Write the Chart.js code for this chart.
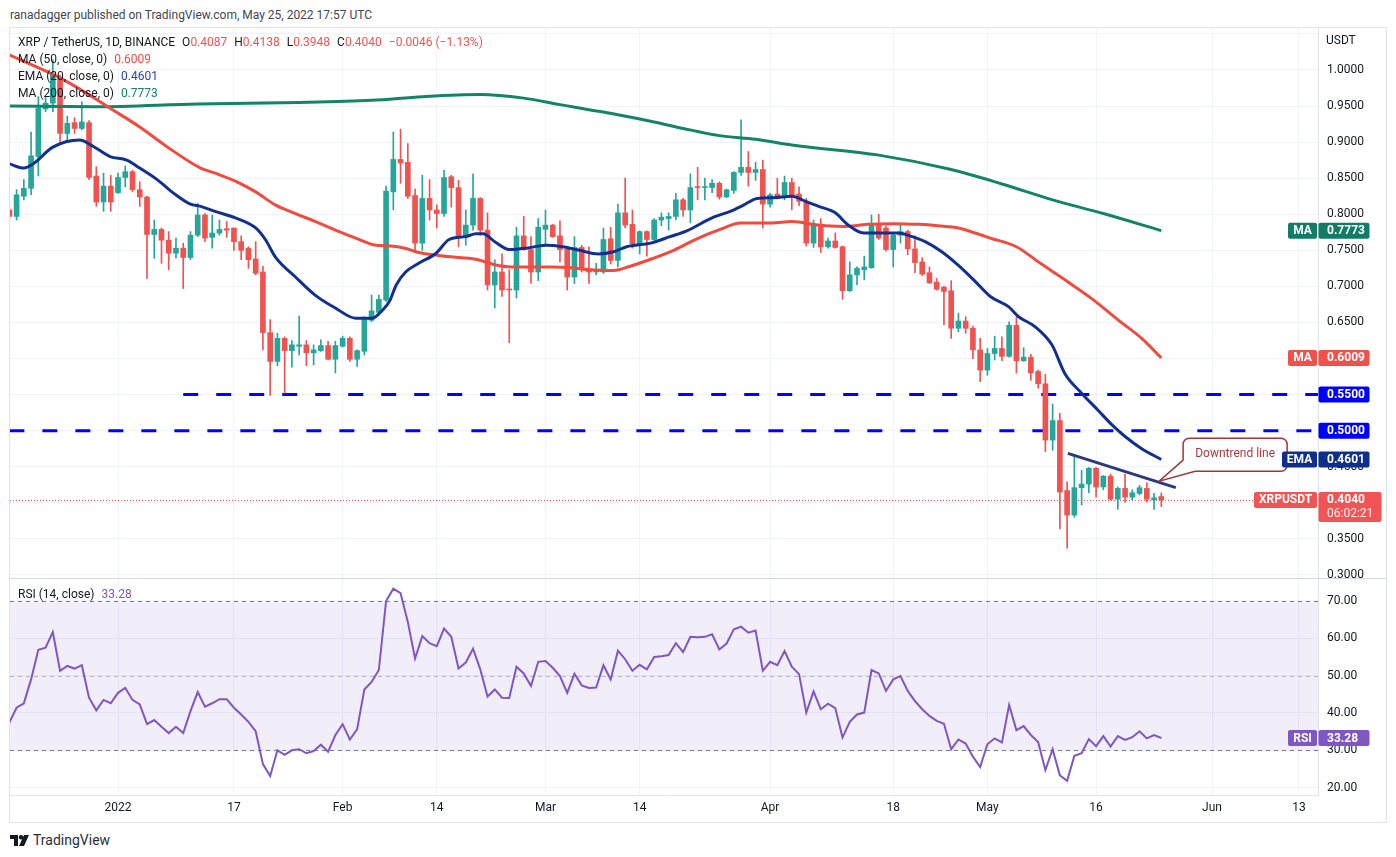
<!DOCTYPE html>
<html>
<head>
<meta charset="utf-8">
<script src="https://cdn.jsdelivr.net/npm/chart.js@4.4.0/dist/chart.umd.min.js"></script>
<style>
  body { margin: 0; background: #fff; font-family: Roboto, "Liberation Sans", sans-serif; }
  #page { position: relative; width: 1396px; height: 857px; overflow: hidden; background: #fff; }
  .txt { position: absolute; font-size: 12px; line-height: 14px; color: #131722; white-space: nowrap; }
  .txt span { margin-left: 7px; }
  .txt span.n { margin-left: 0; }
  #frame { position: absolute; left: 9px; top: 27px; width: 1376px; height: 794px; border: 1px solid #e0e3eb; }
  canvas { position: absolute; }
</style>
</head>
<body>
<div id="page">
  <div class="txt" style="left:10px;top:8px;color:#434651">ranadagger published on TradingView.com, May 25, 2022 17:57 UTC</div>
  <div id="frame"></div>
  <canvas id="priceChart" width="1376" height="550" style="left:10px;top:28px;width:1376px;height:550px"></canvas>
  <canvas id="rsiChart" width="1376" height="244" style="left:10px;top:578px;width:1376px;height:244px"></canvas>
  <div class="txt" id="leg1" style="left:18px;top:35px"></div>
  <div class="txt" id="leg2" style="left:18px;top:52px"></div>
  <div class="txt" id="leg3" style="left:18px;top:69px"></div>
  <div class="txt" id="leg4" style="left:18px;top:86px"></div>
  <div class="txt" id="legRsi" style="left:18px;top:587px"></div>
  <div class="txt" style="left:1326px;top:33px">USDT</div>
  <div class="txt" style="left:10px;top:832px;font-size:14px;line-height:16px;color:#2a2e39">
    <svg width="19" height="11" viewBox="0 0 19 11" style="vertical-align:-1px;margin-right:4px"><path d="M0 0h8v11h-4v-7h-4z" fill="#131722"/><circle cx="11" cy="2.2" r="2.2" fill="#131722"/><path d="M14 0h5l-5 11h-5z" fill="#131722"/></svg>TradingView
  </div>
</div>
<script>
// days are counted from 2022-01-01; first candle is 2021-12-17
const firstDay = -15;

const opens = [
  .806,.797,.825,.836,.880,.946,.954,.989,.912,.927,.919,.927,.853,.817,.839,
  .830,.851,.859,.834,.824,.772,.779,.764,.746,.753,.740,.771,
  .799,.768,.774,.780,.781,.762,.753,.738,.720,.636,.596,.628,.611,.617,.619,.608,.611,.618,.599,.617,.628,.599,.610,.653,.664,.681,
  .831,.876,.872,.826,.760,.822,.806,.801,.852,.837,.769,.785,.822,.778,.702,.720,.696,.695,.770,.751,.720,.779,.785,.770,.752,.713,.754,
  .724,.720,.720,.766,.736,.802,.786,.759,.776,.765,.792,.794,.797,.820,.806,.838,.837,.837,.843,.824,.833,.858,.865,.858,.862,.814,.828,.824,
  .844,.828,.818,.760,.786,.755,.763,.755,.694,.716,.723,.726,.786,.781,.751,.771,.776,.752,.734,.719,.706,.699,.694,.642,.652,.642,.612,.584,
  .607,.614,.603,.646,.597,.602,.582,.565,.487,.514,.417,.383,.421,.426,.448,.422,.437,.405,.420,.408,.413,.420,.404,.4087
];
const highs = [
  .810,.834,.848,.914,.963,.963,1.014,.993,.936,.934,.956,.930,.866,.857,.854,
  .857,.867,.861,.845,.825,.792,.781,.776,.767,.760,.776,.815,
  .801,.799,.792,.790,.781,.770,.755,.762,.728,.654,.635,.630,.625,.659,.625,.619,.626,.624,.624,.631,.630,.612,.658,.688,.688,.839,
  .914,.918,.898,.835,.854,.848,.813,.861,.854,.847,.806,.856,.823,.802,.737,.745,.723,.782,.797,.769,.794,.806,.786,.791,.753,.769,.757,
  .755,.732,.781,.782,.814,.850,.806,.777,.777,.794,.802,.802,.829,.822,.856,.865,.850,.848,.845,.835,.859,.931,.887,.872,.875,.829,.850,.853,
  .850,.838,.822,.792,.794,.767,.774,.756,.734,.727,.742,.799,.800,.784,.774,.787,.778,.770,.740,.727,.711,.700,.708,.663,.658,.645,.628,.614,
  .631,.630,.651,.657,.615,.606,.584,.578,.537,.524,.429,.465,.445,.449,.449,.438,.440,.422,.440,.418,.424,.428,.413,.4138
];
const lows = [
  .795,.792,.820,.827,.853,.942,.942,.898,.901,.912,.917,.848,.811,.804,.804,
  .829,.838,.831,.811,.711,.739,.732,.723,.739,.697,.737,.769,
  .762,.753,.771,.768,.750,.737,.725,.716,.612,.549,.590,.552,.588,.605,.590,.591,.610,.598,.580,.616,.596,.589,.605,.651,.663,.679,
  .806,.843,.822,.750,.750,.792,.781,.797,.810,.755,.757,.778,.771,.695,.670,.686,.622,.684,.750,.704,.708,.757,.768,.734,.695,.704,.720,
  .704,.716,.718,.731,.727,.781,.753,.745,.742,.764,.784,.778,.792,.797,.788,.820,.820,.830,.821,.823,.829,.854,.839,.847,.781,.810,.821,.820,
  .806,.812,.756,.754,.747,.753,.753,.682,.693,.702,.709,.725,.765,.749,.727,.760,.744,.719,.715,.704,.695,.647,.628,.637,.635,.600,.568,.577,
  .598,.597,.602,.580,.596,.570,.559,.471,.473,.364,.337,.380,.397,.414,.408,.418,.404,.391,.401,.404,.411,.401,.391,.3948
];
const closes = [
  .797,.827,.836,.881,.947,.954,.993,.912,.926,.919,.928,.851,.817,.839,.817,
  .851,.859,.834,.824,.772,.779,.764,.746,.753,.740,.771,.799,
  .767,.774,.779,.778,.762,.750,.737,.718,.636,.596,.628,.611,.619,.619,.608,.612,.618,.599,.618,.628,.599,.611,.657,.666,.682,.832,
  .876,.871,.825,.760,.822,.806,.801,.851,.837,.769,.785,.822,.778,.702,.720,.695,.695,.770,.751,.720,.782,.785,.769,.751,.713,.754,.723,
  .720,.722,.765,.736,.802,.785,.759,.776,.765,.792,.796,.797,.820,.806,.837,.837,.838,.843,.824,.834,.858,.865,.858,.862,.814,.827,.822,.844,
  .826,.818,.760,.787,.755,.763,.754,.694,.716,.725,.727,.787,.767,.751,.771,.776,.752,.733,.717,.705,.696,.693,.642,.652,.642,.612,.584,.607,
  .614,.603,.646,.597,.602,.580,.565,.487,.514,.415,.383,.421,.426,.448,.422,.437,.405,.420,.408,.414,.421,.405,.407,.4040
];

// moving averages as [day, value]
const ema20Points = [
  [-15,.870],[-13,.864],[-11.7,.870],[-9,.893],[-5.3,.903],[-3.4,.894],[-1.1,.880],[1.2,.875],[3,.864],[5.4,.848],
  [7.7,.829],[10,.814],[11.4,.811],[13.4,.804],[16.2,.795],[19,.781],[20.4,.764],[21.7,.741],[24.5,.713],[27.2,.688],
  [30,.670],[32.8,.656],[35.1,.656],[36.5,.667],[37.5,.680],[38.4,.702],[39.7,.720],[41.5,.732],[43.9,.746],[45.7,.765],
  [48,.769],[49.4,.773],[50.4,.773],[52,.762],[54,.751],[56.4,.753],[59,.757],[61.4,.755],[63.7,.750],[66.3,.745],
  [68.4,.748],[70.2,.755],[73.5,.760],[76.2,.769],[78.5,.777],[82.2,.796],[84.5,.804],[86.4,.813],[88.2,.822],[90.5,.823],
  [93,.825],[94.9,.818],[96.7,.811],[99,.802],[100.8,.785],[102.9,.774],[104.9,.774],[107.7,.774],[109.3,.770],[111.4,.762],
  [113.7,.748],[116,.729],[118.3,.707],[120.4,.686],[122.9,.672],[124.3,.658],[126.6,.644],[128.9,.619],[130.7,.579],[133,.552],
  [135.3,.528],[137.2,.508],[139,.492],[141.3,.475],[144,.4601]
];
const ma50Points = [
  [-15,1.021],[-8,.989],[-3.9,.965],[-1.1,.947],[3,.921],[6.7,.894],[11.4,.864],[13.4,.857],[16.2,.846],[19,.831],
  [21.7,.813],[24.5,.801],[27.2,.790],[30,.778],[32.8,.767],[35.6,.757],[37.7,.756],[39.6,.753],[41.5,.747],[44.2,.743],
  [47,.740],[49.7,.737],[52,.730],[54.3,.727],[57.1,.727],[59.9,.727],[62.6,.726],[65.1,.723],[68.4,.722],[70.7,.728],
  [73.9,.739],[76.7,.750],[79.9,.766],[83.1,.779],[85.9,.788],[87.7,.788],[90.1,.788],[93,.790],[96.7,.785],[99.9,.783],
  [103.5,.786],[107.2,.787],[110.5,.786],[113.2,.784],[116,.781],[118.3,.774],[120.4,.767],[124,.755],[127.3,.732],[131,.707],
  [134.4,.683],[138.1,.653],[141.3,.628],[144,.6009]
];
const ma200Points = [
  [-15,.950],[-3,.949],[11,.953],[25,.955],[35,.958],[42,.963],[50,.966],[56,.961],[61,.952],[65,.945],
  [69,.938],[74,.928],[78,.919],[83,.909],[88,.904],[93,.896],[105,.882],[115,.862],[122,.842],[129,.820],
  [136,.801],[144,.7773]
];

const rsiValues = [
  37.4,41.4,42.6,49.0,56.9,57.5,61.7,51.3,52.6,51.9,52.8,44.1,40.7,43.5,42.6,
  45.4,46.7,43.5,42.3,37.0,38.1,36.3,34.6,36.3,34.6,40.5,45.6,41.7,42.6,43.7,
  43.7,41.4,39.6,37.6,35.1,26.3,23.1,30.0,28.8,30.0,30.3,29.2,29.8,31.5,29.6,
  34.1,37.0,32.9,35.6,46.3,48.3,51.5,70.0,73.3,72.1,64.4,54.6,60.6,58.7,57.9,
  62.6,60.4,51.9,53.5,57.2,51.7,44.4,46.3,44.1,44.0,52.4,50.6,47.2,53.7,53.9,
  52.1,49.9,45.4,50.5,47.4,46.7,46.8,52.8,49.0,56.7,54.4,51.3,52.9,51.7,55.0,
  55.2,55.5,58.7,56.3,60.4,60.3,60.4,61.1,57.0,58.6,62.4,63.1,61.5,62.1,51.3,
  53.7,52.8,56.6,52.4,50.4,40.1,45.8,41.0,42.5,41.3,33.4,37.6,39.6,40.1,51.5,
  50.6,45.9,49.0,49.9,45.9,43.2,41.0,39.2,37.9,37.1,30.3,32.9,31.8,28.3,25.5,
  31.6,33.2,32.1,42.1,35.4,36.5,34.1,32.2,24.7,30.3,23.3,21.8,28.5,29.2,33.0,
  31.1,33.8,31.0,33.8,32.8,33.5,35.1,33.2,34.1,33.28
];

const tickDays = [0, 16, 31, 44, 59, 72, 90, 107, 120, 135, 151, 163];
const tickLabels = ['2022', '17', 'Feb', '14', 'Mar', '14', 'Apr', '18', 'May', '16', 'Jun', '13'];

const levels = [0.55, 0.50];
const levelStartDays = [9, -15];
const trendLine = [[131.1, 0.4685], [146, 0.421]];
const calloutTip = [143.7, 0.430];

// visible window
const xMin = -14.91, xMax = 165.63;
const priceMin = 0.2958, priceMax = 1.0582;
const rsiMin = 18.02, rsiMax = 76.16;

const up = '#26a69a', down = '#ef5350';
const emaColor = '#12308d', ma50Color = '#f04b3f', ma200Color = '#138468', rsiColor = '#7e57c2';
const gridColor = '#f0f3fa', borderColor = '#e0e3eb';

Chart.defaults.font.family = 'Roboto, "Liberation Sans", sans-serif';
Chart.defaults.font.size = 12;
Chart.defaults.color = '#131722';

const last = a => a[a.length - 1];
const toXY = pts => pts.map(p => ({x: p[0], y: p[1]}));
const candleColor = ctx => closes[ctx.dataIndex] >= opens[ctx.dataIndex] ? up : down;

// legend texts
const n = closes.length - 1;
document.getElementById('leg1').innerHTML = 'XRP / TetherUS, 1D, BINANCE' +
  ['O', 'H', 'L', 'C'].map((k, i) => `<span>${k}<span class="n" style="color:${down}">${[opens, highs, lows, closes][i][n].toFixed(4)}</span></span>`).join('') +
  `<span style="color:${down}">\u22120.0046 (\u22121.13%)</span>`;
document.getElementById('leg2').innerHTML = `MA (50, close, 0)<span style="color:${ma50Color}">${last(ma50Points)[1].toFixed(4)}</span>`;
document.getElementById('leg3').innerHTML = `EMA (20, close, 0)<span style="color:#2a44a8">${last(ema20Points)[1].toFixed(4)}</span>`;
document.getElementById('leg4').innerHTML = `MA (200, close, 0)<span style="color:${ma200Color}">${last(ma200Points)[1].toFixed(4)}</span>`;
document.getElementById('legRsi').innerHTML = `RSI (14, close)<span style="color:${rsiColor}">${last(rsiValues).toFixed(2)}</span>`;

function rect(ctx, x, y, w, h, r, color) {
  ctx.fillStyle = color;
  ctx.beginPath();
  if (ctx.roundRect) ctx.roundRect(x, y, w, h, r); else ctx.rect(x, y, w, h);
  ctx.fill();
}

function tag(ctx, right, yc, text, color) {
  ctx.font = 'bold 12px Roboto, sans-serif';
  const w = Math.round(ctx.measureText(text).width) + 10;
  rect(ctx, right - 1 - w, yc - 8, w, 16, 2, color);
  ctx.fillStyle = '#fff';
  ctx.textAlign = 'center';
  ctx.textBaseline = 'middle';
  ctx.fillText(text, right - 1 - w / 2, yc + 0.5);
}

function valueBox(ctx, right, yc, text, color, sub) {
  const h = sub ? 30 : 16, w = sub ? 63 : 51;
  rect(ctx, right + 0.5, yc - 8, w, h, 2, color);
  ctx.font = 'bold 12px Roboto, sans-serif';
  ctx.textAlign = 'left';
  ctx.textBaseline = 'middle';
  ctx.fillStyle = '#fff';
  ctx.fillText(text, right + 9, yc + 0.5);
  if (sub) {
    ctx.font = '12px Roboto, sans-serif';
    ctx.fillStyle = 'rgba(255,255,255,0.9)';
    ctx.fillText(sub, right + 9, yc + 14.5);
  }
}

const priceOverlay = {
  id: 'priceOverlay',
  beforeDatasetsDraw(chart) {
    const {ctx, chartArea: a, scales: {y}} = chart;
    const yp = Math.round(y.getPixelForValue(last(closes))) + 0.5;
    ctx.save();
    ctx.strokeStyle = down;
    ctx.lineWidth = 1;
    ctx.setLineDash([1, 2]);
    ctx.beginPath();
    ctx.moveTo(a.left, yp);
    ctx.lineTo(a.right, yp);
    ctx.stroke();
    ctx.restore();
  },
  afterDraw(chart) {
    const {ctx, chartArea: a, scales: {x, y}} = chart;
    const r = a.right;
    ctx.save();

    // callout first, so the axis badges sit on top of it
    const tx = x.getPixelForValue(calloutTip[0]), ty = y.getPixelForValue(calloutTip[1]);
    const L = tx + 24, T = ty - 43, R = L + 104, B = T + 33, rr = 6;
    ctx.beginPath();
    ctx.moveTo(L + rr, T);
    ctx.lineTo(R - rr, T); ctx.arcTo(R, T, R, T + rr, rr);
    ctx.lineTo(R, B - rr); ctx.arcTo(R, B, R - rr, B, rr);
    ctx.lineTo(L + 12, B);
    ctx.lineTo(tx, ty);
    ctx.lineTo(L, T + 22);
    ctx.lineTo(L, T + rr); ctx.arcTo(L, T, L + rr, T, rr);
    ctx.closePath();
    ctx.fillStyle = '#fff';
    ctx.fill();
    ctx.strokeStyle = '#a0353a';
    ctx.lineWidth = 1.5;
    ctx.stroke();
    ctx.fillStyle = '#a83a3f';
    ctx.font = '12px Roboto, sans-serif';
    ctx.textAlign = 'center';
    ctx.textBaseline = 'middle';
    ctx.fillText('Downtrend line', (L + R) / 2, T + 16);

    const ma200 = last(ma200Points)[1], ma50 = last(ma50Points)[1], ema = last(ema20Points)[1];
    tag(ctx, r, y.getPixelForValue(ma200), 'MA', '#127c66');
    valueBox(ctx, r, y.getPixelForValue(ma200), ma200.toFixed(4), '#127c66');
    tag(ctx, r, y.getPixelForValue(ma50), 'MA', '#f0524b');
    valueBox(ctx, r, y.getPixelForValue(ma50), ma50.toFixed(4), '#f0524b');
    levels.forEach(v => valueBox(ctx, r, y.getPixelForValue(v), v.toFixed(4), '#0000ff'));
    tag(ctx, r, y.getPixelForValue(ema), 'EMA', '#0f2f8c');
    valueBox(ctx, r, y.getPixelForValue(ema), ema.toFixed(4), '#0f2f8c');
    const yc = y.getPixelForValue(last(closes));
    tag(ctx, r, yc, 'XRPUSDT', '#f05454');
    valueBox(ctx, r, yc, last(closes).toFixed(4), '#f05454', '06:02:21');
    ctx.restore();
  }
};

const xGridTicks = s => { s.ticks = tickDays.map(v => ({value: v})); };
// keep the plot area flush with the canvas edges
const fitY = s => { s.width = 68; s.paddingTop = 0; s.paddingBottom = 0; };

new Chart(document.getElementById('priceChart'), {
  type: 'bar',
  data: {
    datasets: [{
      type: 'line',
      label: 'Downtrend line',
      data: toXY(trendLine),
      borderColor: '#2a3b7c',
      borderWidth: 3,
      pointRadius: 0,
      order: 1
    }, {
      type: 'line',
      label: 'EMA 20',
      data: toXY(ema20Points),
      borderColor: emaColor,
      borderWidth: 3,
      pointRadius: 0,
      cubicInterpolationMode: 'monotone',
      order: 2
    }, {
      type: 'line',
      label: 'MA 50',
      data: toXY(ma50Points),
      borderColor: ma50Color,
      borderWidth: 3,
      pointRadius: 0,
      cubicInterpolationMode: 'monotone',
      order: 3
    }, {
      type: 'line',
      label: 'MA 200',
      data: toXY(ma200Points),
      borderColor: ma200Color,
      borderWidth: 3,
      pointRadius: 0,
      cubicInterpolationMode: 'monotone',
      order: 4
    }, {
      label: 'Body',
      data: opens.map((o, i) => ({x: firstDay + i, y: [o, closes[i]]})),
      backgroundColor: candleColor,
      barThickness: 5,
      minBarLength: 1,
      grouped: false,
      order: 5
    }, {
      label: 'Wick',
      data: lows.map((l, i) => ({x: firstDay + i, y: [l, highs[i]]})),
      backgroundColor: candleColor,
      barThickness: 1,
      grouped: false,
      order: 6
    }, ...levels.map((v, i) => ({
      type: 'line',
      label: v.toFixed(2),
      data: [{x: levelStartDays[i], y: v}, {x: 170, y: v}],
      borderColor: '#0000ff',
      borderWidth: 3,
      borderDash: [15, 18],
      pointRadius: 0,
      order: 7
    }))]
  },
  options: {
    responsive: false,
    animation: false,
    devicePixelRatio: 1,
    events: [],
    layout: {padding: 0, autoPadding: false},
    plugins: {legend: {display: false}, tooltip: {enabled: false}},
    scales: {
      x: {
        type: 'linear',
        offset: false,
        min: xMin,
        max: xMax,
        afterBuildTicks: xGridTicks,
        afterFit: s => { s.height = 0; s.paddingLeft = 0; s.paddingRight = 0; },
        ticks: {display: false},
        grid: {color: gridColor, drawTicks: false, offset: false},
        border: {display: false}
      },
      y: {
        position: 'right',
        min: priceMin,
        max: priceMax,
        afterFit: fitY,
        ticks: {
          stepSize: 0.05,
          includeBounds: false,
          padding: 9,
          callback: v => v > 1.001 ? '' : v.toFixed(4)
        },
        grid: {color: gridColor, drawTicks: false},
        border: {display: true, color: borderColor}
      }
    }
  },
  plugins: [priceOverlay]
});

const rsiOverlay = {
  id: 'rsiOverlay',
  beforeDatasetsDraw(chart) {
    const {ctx, chartArea: a, scales: {y}} = chart;
    const y70 = Math.round(y.getPixelForValue(70)) + 0.5;
    const y50 = Math.round(y.getPixelForValue(50)) + 0.5;
    const y30 = Math.round(y.getPixelForValue(30)) + 0.5;
    ctx.save();
    ctx.fillStyle = 'rgba(126, 87, 194, 0.1)';
    ctx.fillRect(a.left, y70, a.right - a.left, y30 - y70);
    ctx.lineWidth = 1;
    ctx.setLineDash([4, 4]);
    ctx.strokeStyle = '#787b86';
    [y70, y30].forEach(yy => { ctx.beginPath(); ctx.moveTo(a.left, yy); ctx.lineTo(a.right, yy); ctx.stroke(); });
    ctx.strokeStyle = 'rgba(120, 123, 134, 0.5)';
    ctx.beginPath(); ctx.moveTo(a.left, y50); ctx.lineTo(a.right, y50); ctx.stroke();
    ctx.restore();
  },
  afterDraw(chart) {
    const {ctx, chartArea: a, scales: {y}} = chart;
    ctx.save();
    ctx.strokeStyle = '#d6d9e0';
    ctx.lineWidth = 1;
    ctx.beginPath(); ctx.moveTo(0, 0.5); ctx.lineTo(chart.width, 0.5); ctx.stroke();
    const v = last(rsiValues);
    tag(ctx, a.right, y.getPixelForValue(v), 'RSI', rsiColor);
    valueBox(ctx, a.right, y.getPixelForValue(v), v.toFixed(2), rsiColor);
    ctx.restore();
  }
};

new Chart(document.getElementById('rsiChart'), {
  type: 'line',
  data: {
    datasets: [{
      label: 'RSI',
      data: rsiValues.map((v, i) => ({x: firstDay + i, y: v})),
      borderColor: rsiColor,
      borderWidth: 2,
      pointRadius: 0,
      tension: 0
    }]
  },
  options: {
    responsive: false,
    animation: false,
    devicePixelRatio: 1,
    events: [],
    layout: {padding: 0, autoPadding: false},
    plugins: {legend: {display: false}, tooltip: {enabled: false}},
    scales: {
      x: {
        type: 'linear',
        min: xMin,
        max: xMax,
        afterBuildTicks: xGridTicks,
        afterFit: s => { s.height = 27; s.paddingLeft = 0; s.paddingRight = 0; },
        ticks: {
          autoSkip: false,
          maxRotation: 0,
          padding: 6,
          callback: v => tickLabels[tickDays.indexOf(v)]
        },
        grid: {color: gridColor, drawTicks: false},
        border: {display: true, color: borderColor}
      },
      y: {
        position: 'right',
        min: rsiMin,
        max: rsiMax,
        afterFit: fitY,
        ticks: {stepSize: 10, includeBounds: false, padding: 9, callback: v => v.toFixed(2)},
        grid: {color: gridColor, drawTicks: false},
        border: {display: true, color: borderColor}
      }
    }
  },
  plugins: [rsiOverlay]
});
</script>
</body>
</html>
